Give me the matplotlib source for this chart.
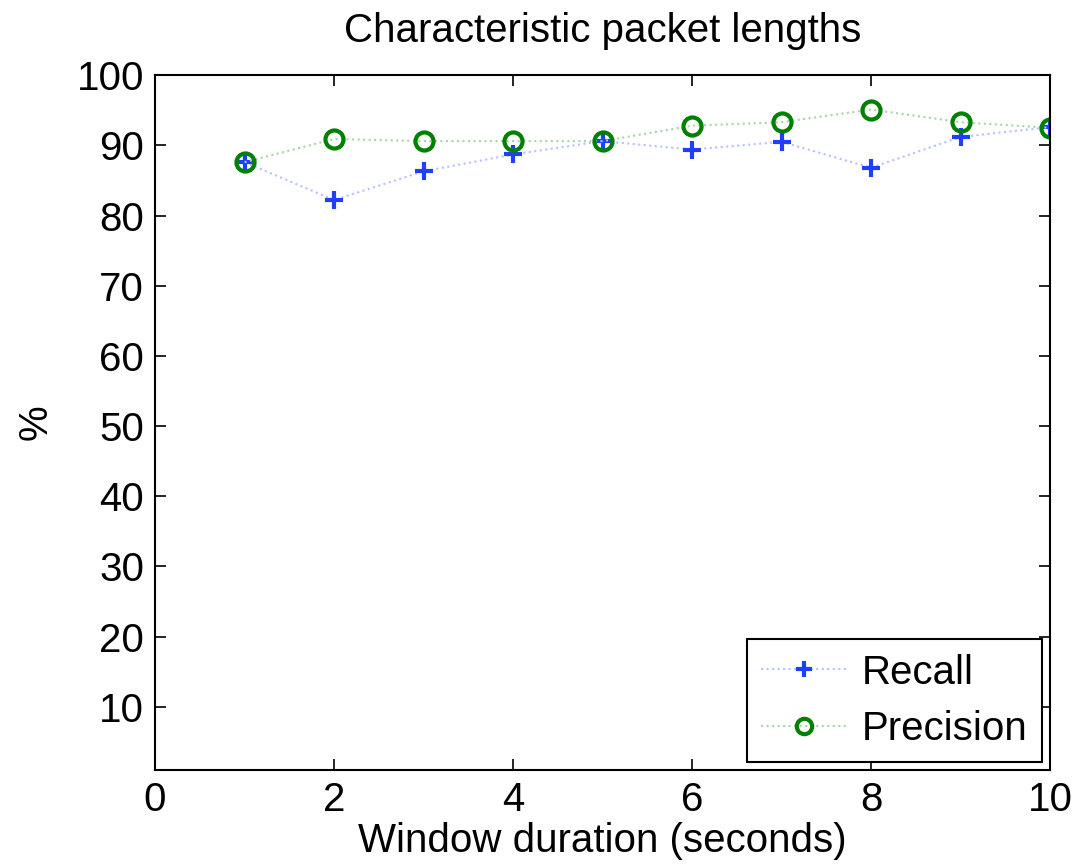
import matplotlib
matplotlib.use("Agg")
import matplotlib.pyplot as plt

# window duration (seconds)
windows = [1, 2, 3, 4, 5, 6, 7, 8, 9, 10]
recall = [87.6, 82.2, 86.3, 88.7, 90.6, 89.4, 90.5, 86.8, 91.2, 92.6]
precision = [87.6, 90.9, 90.6, 90.6, 90.6, 92.8, 93.3, 95.1, 93.3, 92.5]
yticks = [10, 20, 30, 40, 50, 60, 70, 80, 90, 100]

plt.rcParams['font.family'] = ['Liberation Sans', 'DejaVu Sans']

fig = plt.figure(figsize=(10.77, 8.64), dpi=100)
ax = fig.add_axes([0.144, 0.109, 0.831, 0.804])

# pale dotted connecting lines, solid coloured markers
ax.plot(windows, recall, linestyle=':', color='#b4c0ff', linewidth=1.5,
        marker='+', markeredgecolor='#1f3fff', markersize=13, markeredgewidth=3,
        label='Recall')
ax.plot(windows, precision, linestyle=':', color='#a8d4a8', linewidth=1.5,
        marker='o', markerfacecolor='none', markeredgecolor='#008000',
        markersize=13, markeredgewidth=3, label='Precision')

ax.set_xlim(0, 10)
ax.set_ylim(1, 100)
ax.set_yticks(yticks)
ax.set_xticks([0, 2, 4, 6, 8, 10])
ax.tick_params(direction='in', length=8, width=1.2, top=True, right=True,
               labelsize=29, pad=8)
for s in ax.spines.values():
    s.set_linewidth(1.5)

ax.set_title('Characteristic packet lengths', fontsize=29, pad=24)
ax.set_xlabel('Window duration (seconds)', fontsize=29, labelpad=2)
ax.set_ylabel('%', fontsize=29, labelpad=16)

leg = ax.legend(loc='lower right', fontsize=29, fancybox=False,
                edgecolor='black', framealpha=1, handlelength=2.1, borderaxespad=0.2,
                handletextpad=0.4, borderpad=0.35, labelspacing=0.45, markerscale=0.85)
leg.get_frame().set_linewidth(1.5)

fig.savefig('out.png', dpi=100)
